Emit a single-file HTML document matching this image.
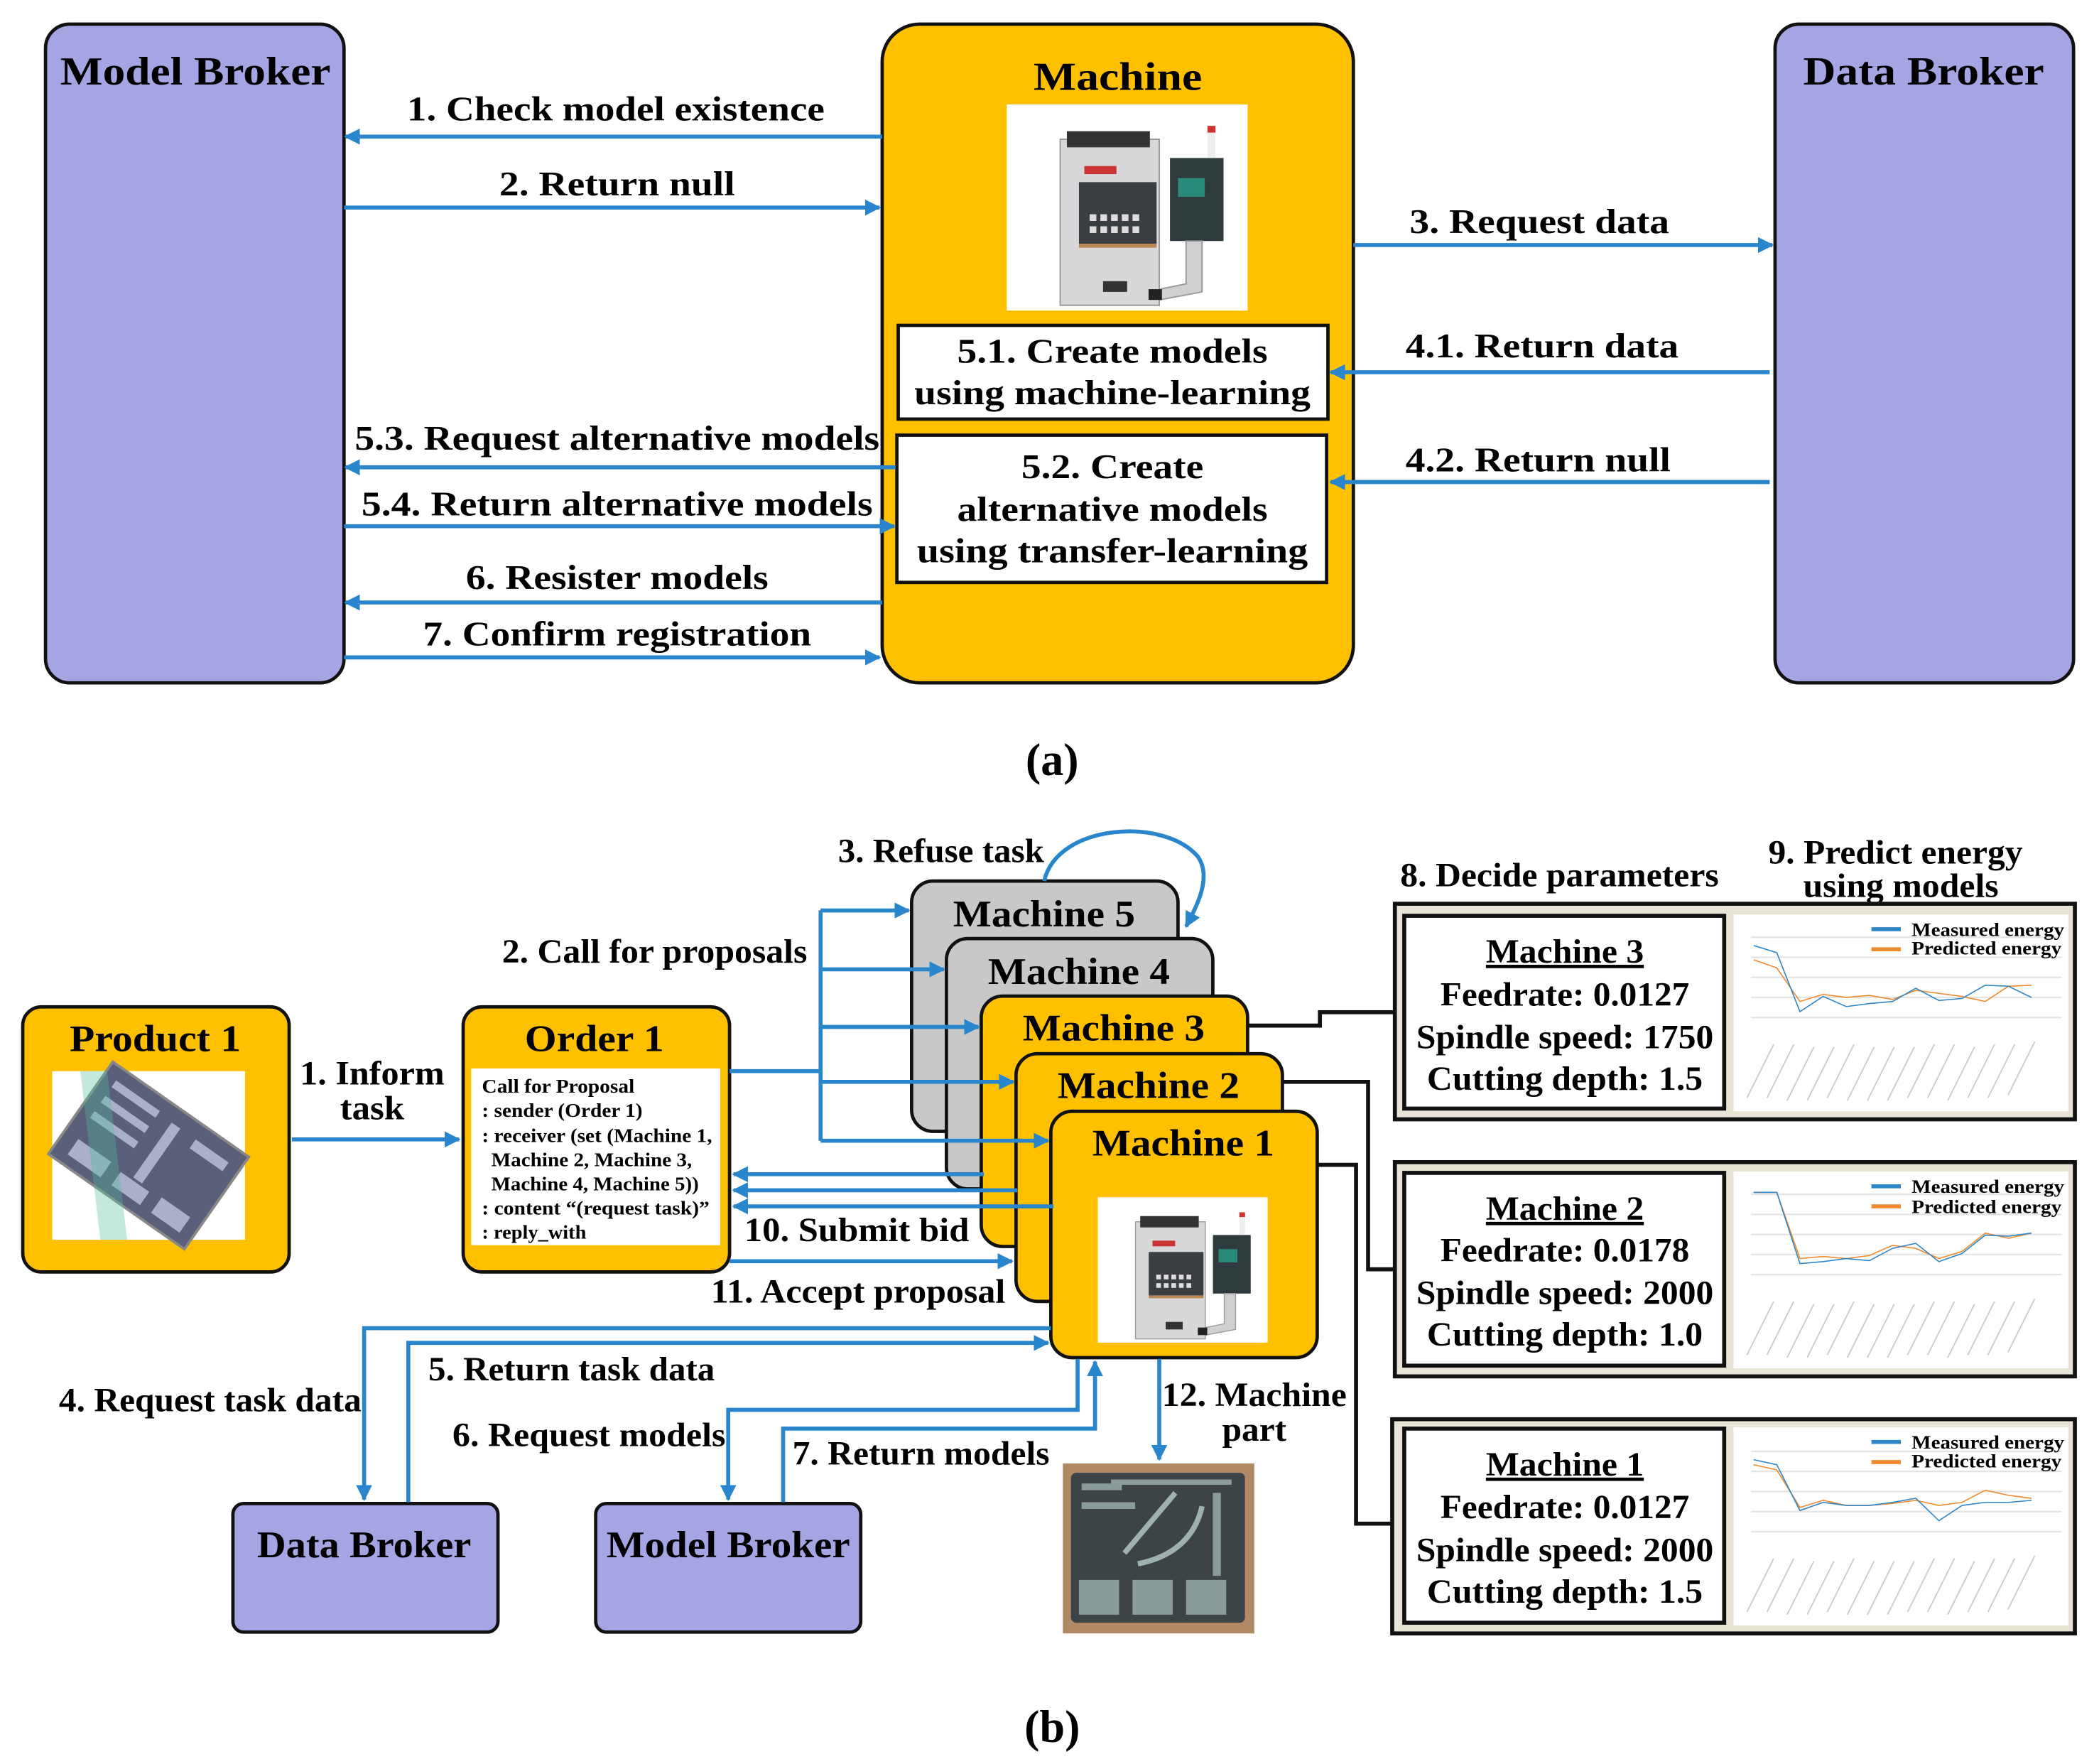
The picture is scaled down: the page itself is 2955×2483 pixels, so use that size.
<!DOCTYPE html>
<html><head><meta charset="utf-8"><style>
html,body{margin:0;padding:0;background:#fff;}
svg{display:block;}
text{font-family:"Liberation Serif",serif;font-weight:bold;fill:#000;}
</style></head><body>
<svg width="2955" height="2483" viewBox="0 0 1568 1317.5" xmlns="http://www.w3.org/2000/svg">
<defs>
<marker id="ah" viewBox="0 0 10 10" refX="9" refY="5" markerWidth="4" markerHeight="4" orient="auto" markerUnits="strokeWidth">
<path d="M0,0 L10,5 L0,10 z" fill="#2a86cc"/></marker>
<symbol id="mach" viewBox="0 0 180 154">
<rect x="0" y="0" width="180" height="154" fill="#fff"/>
<rect x="40" y="26" width="74" height="124" fill="#d8d8da" stroke="#999" stroke-width="1"/>
<rect x="45" y="20" width="62" height="12" fill="#333"/>
<rect x="58" y="46" width="24" height="6" fill="#c33"/>
<rect x="54" y="58" width="58" height="46" fill="#3a3d42"/>
<g fill="#ddd"><rect x="62" y="82" width="5" height="5"/><rect x="70" y="82" width="5" height="5"/><rect x="78" y="82" width="5" height="5"/><rect x="86" y="82" width="5" height="5"/><rect x="94" y="82" width="5" height="5"/><rect x="62" y="91" width="5" height="5"/><rect x="70" y="91" width="5" height="5"/><rect x="78" y="91" width="5" height="5"/><rect x="86" y="91" width="5" height="5"/><rect x="94" y="91" width="5" height="5"/></g>
<rect x="54" y="104" width="58" height="3" fill="#b85"/>
<rect x="72" y="132" width="18" height="8" fill="#333"/>
<rect x="122" y="40" width="40" height="62" fill="#2e3a3c"/>
<rect x="128" y="55" width="20" height="14" fill="#2a8a7a"/>
<rect x="150" y="16" width="6" height="24" fill="#eee"/>
<rect x="150" y="16" width="6" height="5" fill="#c33"/>
<path d="M134,102 L146,102 L146,140 L114,146 L114,138 L134,134 z" fill="#d0d0d2" stroke="#999" stroke-width="1"/>
<rect x="106" y="138" width="10" height="8" fill="#222"/>
</symbol>
</defs>

<!-- ============ PART A ============ -->
<rect x="34" y="18" width="223" height="492" rx="18" fill="#a5a5e3" stroke="#111" stroke-width="2.5"/>
<rect x="659" y="18" width="352" height="492" rx="28" fill="#ffc000" stroke="#111" stroke-width="2.5"/>
<rect x="1326" y="18" width="223" height="492" rx="18" fill="#a5a5e3" stroke="#111" stroke-width="2.5"/>
<text x="146" y="63" font-size="30" text-anchor="middle" textLength="202" lengthAdjust="spacingAndGlyphs">Model Broker</text>
<text x="835" y="67" font-size="30" text-anchor="middle" textLength="126" lengthAdjust="spacingAndGlyphs">Machine</text>
<text x="1437" y="63" font-size="30" text-anchor="middle" textLength="180" lengthAdjust="spacingAndGlyphs">Data Broker</text>
<use href="#mach" x="752" y="78" width="180" height="154"/>
<rect x="671" y="243" width="321" height="70" fill="#fff" stroke="#111" stroke-width="2.5"/>
<text x="831" y="271" font-size="26" text-anchor="middle" textLength="232" lengthAdjust="spacingAndGlyphs">5.1. Create models</text>
<text x="831" y="302" font-size="26" text-anchor="middle" textLength="296" lengthAdjust="spacingAndGlyphs">using machine-learning</text>
<rect x="670" y="325" width="321" height="110" fill="#fff" stroke="#111" stroke-width="2.5"/>
<text x="831" y="357" font-size="26" text-anchor="middle" textLength="136" lengthAdjust="spacingAndGlyphs">5.2. Create</text>
<text x="831" y="389" font-size="26" text-anchor="middle" textLength="232" lengthAdjust="spacingAndGlyphs">alternative models</text>
<text x="831" y="420" font-size="26" text-anchor="middle" textLength="292" lengthAdjust="spacingAndGlyphs">using transfer-learning</text>

<g stroke="#2a86cc" stroke-width="3" fill="none" marker-end="url(#ah)">
<line x1="659" y1="102" x2="258" y2="102"/>
<line x1="257" y1="155" x2="657" y2="155"/>
<line x1="1011" y1="183" x2="1324" y2="183"/>
<line x1="1322" y1="278" x2="994" y2="278"/>
<line x1="1322" y1="360" x2="994" y2="360"/>
<line x1="669" y1="349" x2="258" y2="349"/>
<line x1="257" y1="393" x2="668" y2="393"/>
<line x1="659" y1="450" x2="258" y2="450"/>
<line x1="257" y1="491" x2="657" y2="491"/>
</g>
<g font-size="26" text-anchor="middle">
<text x="460" y="90" textLength="312" lengthAdjust="spacingAndGlyphs">1. Check model existence</text>
<text x="461" y="146" textLength="176" lengthAdjust="spacingAndGlyphs">2. Return null</text>
<text x="1150" y="174" textLength="194" lengthAdjust="spacingAndGlyphs">3. Request data</text>
<text x="1152" y="267" textLength="204" lengthAdjust="spacingAndGlyphs">4.1. Return data</text>
<text x="1149" y="352" textLength="198" lengthAdjust="spacingAndGlyphs">4.2. Return null</text>
<text x="461" y="336" textLength="392" lengthAdjust="spacingAndGlyphs">5.3. Request alternative models</text>
<text x="461" y="385" textLength="382" lengthAdjust="spacingAndGlyphs">5.4. Return alternative models</text>
<text x="461" y="440" textLength="226" lengthAdjust="spacingAndGlyphs">6. Resister models</text>
<text x="461" y="482" textLength="290" lengthAdjust="spacingAndGlyphs">7. Confirm registration</text>
</g>
<text x="786" y="579" font-size="34" text-anchor="middle">(a)</text>

<!-- ============ PART B ============ -->
<!-- Product 1 -->
<rect x="17" y="752" width="199" height="198" rx="14" fill="#ffc000" stroke="#111" stroke-width="2.5"/>
<text x="116" y="785" font-size="28" text-anchor="middle" textLength="128" lengthAdjust="spacingAndGlyphs">Product 1</text>
<rect x="39" y="800" width="144" height="126" fill="#fff"/>
<g transform="translate(111,863) rotate(35)">
<rect x="-62" y="-42" width="124" height="84" fill="#5a5f7a" stroke="#888" stroke-width="2"/>
<g fill="#aab0c8"><rect x="-52" y="-32" width="40" height="6"/><rect x="-52" y="-18" width="40" height="6"/><rect x="-52" y="-4" width="40" height="6"/><rect x="0" y="-30" width="8" height="50"/><rect x="-50" y="20" width="30" height="14"/><rect x="-10" y="22" width="26" height="12"/><rect x="26" y="20" width="26" height="14"/><rect x="22" y="-30" width="30" height="8"/></g>
</g>
<polygon points="60,800 80,800 95,926 75,926" fill="#4fbf9a" opacity="0.35"/>

<!-- Order 1 -->
<rect x="346" y="752" width="199" height="198" rx="14" fill="#ffc000" stroke="#111" stroke-width="2.5"/>
<text x="444" y="785" font-size="28" text-anchor="middle" textLength="104" lengthAdjust="spacingAndGlyphs">Order 1</text>
<rect x="352" y="798" width="186" height="132" fill="#fff"/>
<g font-size="14.5">
<text x="360" y="816" textLength="114" lengthAdjust="spacingAndGlyphs">Call for Proposal</text>
<text x="360" y="834" textLength="120" lengthAdjust="spacingAndGlyphs">: sender (Order 1)</text>
<text x="360" y="853" textLength="172" lengthAdjust="spacingAndGlyphs">: receiver (set (Machine 1,</text>
<text x="367" y="871" textLength="150" lengthAdjust="spacingAndGlyphs">Machine 2, Machine 3,</text>
<text x="367" y="889" textLength="155" lengthAdjust="spacingAndGlyphs">Machine 4, Machine 5))</text>
<text x="360" y="907" textLength="170" lengthAdjust="spacingAndGlyphs">: content “(request task)”</text>
<text x="360" y="925" textLength="78" lengthAdjust="spacingAndGlyphs">: reply_with</text>
</g>

<!-- Machines -->
<rect x="681" y="658" width="199" height="187" rx="16" fill="#c8c8c8" stroke="#111" stroke-width="2.5"/>
<text x="780" y="692" font-size="28" text-anchor="middle" textLength="136" lengthAdjust="spacingAndGlyphs">Machine 5</text>
<rect x="707" y="701" width="199" height="187" rx="16" fill="#c8c8c8" stroke="#111" stroke-width="2.5"/>
<text x="806" y="735" font-size="28" text-anchor="middle" textLength="136" lengthAdjust="spacingAndGlyphs">Machine 4</text>
<rect x="733" y="744" width="199" height="187" rx="16" fill="#ffc000" stroke="#111" stroke-width="2.5"/>
<text x="832" y="777" font-size="28" text-anchor="middle" textLength="136" lengthAdjust="spacingAndGlyphs">Machine 3</text>
<rect x="759" y="787" width="199" height="185" rx="16" fill="#ffc000" stroke="#111" stroke-width="2.5"/>
<text x="858" y="820" font-size="28" text-anchor="middle" textLength="136" lengthAdjust="spacingAndGlyphs">Machine 2</text>
<rect x="785" y="830" width="199" height="184" rx="16" fill="#ffc000" stroke="#111" stroke-width="2.5"/>
<text x="884" y="863" font-size="28" text-anchor="middle" textLength="136" lengthAdjust="spacingAndGlyphs">Machine 1</text>
<use href="#mach" x="820" y="885" width="127" height="127" preserveAspectRatio="none"/>

<!-- Data/Model broker b -->
<rect x="174" y="1123" width="198" height="96" rx="8" fill="#a5a5e3" stroke="#111" stroke-width="2.5"/>
<text x="272" y="1163" font-size="28" text-anchor="middle" textLength="160" lengthAdjust="spacingAndGlyphs">Data Broker</text>
<rect x="445" y="1123" width="198" height="96" rx="8" fill="#a5a5e3" stroke="#111" stroke-width="2.5"/>
<text x="544" y="1163" font-size="28" text-anchor="middle" textLength="182" lengthAdjust="spacingAndGlyphs">Model Broker</text>

<!-- Part photo -->
<rect x="794" y="1093" width="143" height="127" fill="#b08a66"/>
<rect x="800" y="1100" width="130" height="112" rx="4" fill="#3d4448"/>
<g fill="#9fb0b0" opacity="0.8">
<rect x="808" y="1108" width="30" height="5"/><rect x="808" y="1122" width="40" height="5"/><rect x="830" y="1105" width="90" height="4"/>
<rect x="906" y="1115" width="6" height="62"/>
<rect x="806" y="1180" width="30" height="26"/><rect x="846" y="1180" width="30" height="26"/><rect x="886" y="1180" width="30" height="26"/>
</g>
<line x1="840" y1="1160" x2="878" y2="1115" stroke="#9fb0b0" stroke-width="4"/>
<path d="M850,1168 Q890,1160 898,1125" stroke="#9fb0b0" stroke-width="4" fill="none"/>

<!-- Blue arrows part b -->
<g stroke="#2a86cc" stroke-width="3" fill="none">
<line x1="218" y1="851" x2="343" y2="851" marker-end="url(#ah)"/>
<polyline points="545,800 613,800"/>
<line x1="613" y1="680" x2="613" y2="852"/>
<line x1="613" y1="680" x2="679" y2="680" marker-end="url(#ah)"/>
<line x1="613" y1="724" x2="705" y2="724" marker-end="url(#ah)"/>
<line x1="613" y1="767" x2="731" y2="767" marker-end="url(#ah)"/>
<line x1="613" y1="808" x2="757" y2="808" marker-end="url(#ah)"/>
<line x1="613" y1="852" x2="783" y2="852" marker-end="url(#ah)"/>
<path d="M780,658 C790,615 870,610 895,640 C905,655 895,675 886,692" marker-end="url(#ah)"/>
<line x1="735" y1="877" x2="548" y2="877" marker-end="url(#ah)"/>
<line x1="760" y1="889" x2="548" y2="889" marker-end="url(#ah)"/>
<line x1="787" y1="901" x2="548" y2="901" marker-end="url(#ah)"/>
<line x1="545" y1="942" x2="756" y2="942" marker-end="url(#ah)"/>
<polyline points="785,992 272,992 272,1120" marker-end="url(#ah)"/>
<polyline points="305,1122 305,1003 783,1003" marker-end="url(#ah)"/>
<polyline points="805,1015 805,1053 544,1053 544,1120" marker-end="url(#ah)"/>
<polyline points="585,1122 585,1067 818,1067 818,1017" marker-end="url(#ah)"/>
<line x1="866" y1="1015" x2="866" y2="1090" marker-end="url(#ah)"/>
</g>

<!-- black connectors -->
<g stroke="#111" stroke-width="3" fill="none">
<polyline points="932,766 986,766 986,756 1043,756"/>
<polyline points="958,808 1022,808 1022,948 1043,948"/>
<polyline points="984,870 1013,870 1013,1138 1041,1138"/>
</g>

<!-- Part b labels -->
<g font-size="25">
<text x="278" y="810" text-anchor="middle" textLength="108" lengthAdjust="spacingAndGlyphs">1. Inform</text>
<text x="278" y="836" text-anchor="middle" textLength="48" lengthAdjust="spacingAndGlyphs">task</text>
<text x="489" y="719" text-anchor="middle" textLength="228" lengthAdjust="spacingAndGlyphs">2. Call for proposals</text>
<text x="703" y="644" text-anchor="middle" textLength="154" lengthAdjust="spacingAndGlyphs">3. Refuse task</text>
<text x="640" y="927" text-anchor="middle" textLength="168" lengthAdjust="spacingAndGlyphs">10. Submit  bid</text>
<text x="641" y="973" text-anchor="middle" textLength="220" lengthAdjust="spacingAndGlyphs">11. Accept proposal</text>
<text x="157" y="1054" text-anchor="middle" textLength="226" lengthAdjust="spacingAndGlyphs">4. Request task data</text>
<text x="427" y="1031" text-anchor="middle" textLength="214" lengthAdjust="spacingAndGlyphs">5. Return task data</text>
<text x="440" y="1080" text-anchor="middle" textLength="204" lengthAdjust="spacingAndGlyphs">6. Request models</text>
<text x="688" y="1094" text-anchor="middle" textLength="192" lengthAdjust="spacingAndGlyphs">7. Return models</text>
<text x="937" y="1050" text-anchor="middle" textLength="138" lengthAdjust="spacingAndGlyphs">12. Machine</text>
<text x="937" y="1076" text-anchor="middle" textLength="48" lengthAdjust="spacingAndGlyphs">part</text>
<text x="1165" y="662" text-anchor="middle" textLength="238" lengthAdjust="spacingAndGlyphs">8. Decide parameters</text>
<text x="1416" y="645" text-anchor="middle" textLength="190" lengthAdjust="spacingAndGlyphs">9. Predict energy</text>
<text x="1420" y="670" text-anchor="middle" textLength="146" lengthAdjust="spacingAndGlyphs">using models</text>
</g>

<!-- Right panels -->
<g id="p1">
<rect x="1042" y="675" width="508" height="161" fill="#e9e5d6" stroke="#111" stroke-width="3"/>
<rect x="1049" y="684" width="239" height="144" fill="#fff" stroke="#111" stroke-width="3"/>
<rect x="1295" y="683" width="250" height="147" fill="#fff"/>
</g>
<g>
<rect x="1042" y="868" width="508" height="160" fill="#e9e5d6" stroke="#111" stroke-width="3"/>
<rect x="1049" y="876" width="239" height="144" fill="#fff" stroke="#111" stroke-width="3"/>
<rect x="1295" y="875" width="250" height="147" fill="#fff"/>
</g>
<g>
<rect x="1040" y="1060" width="510" height="160" fill="#e9e5d6" stroke="#111" stroke-width="3"/>
<rect x="1049" y="1067" width="239" height="145" fill="#fff" stroke="#111" stroke-width="3"/>
<rect x="1295" y="1066" width="250" height="148" fill="#fff"/>
</g>

<g font-size="25" text-anchor="middle">
<text x="1169" y="719" text-decoration="underline" textLength="118" lengthAdjust="spacingAndGlyphs">Machine 3</text>
<text x="1169" y="751" textLength="186" lengthAdjust="spacingAndGlyphs">Feedrate: 0.0127</text>
<text x="1169" y="783" textLength="222" lengthAdjust="spacingAndGlyphs">Spindle speed: 1750</text>
<text x="1169" y="814" textLength="206" lengthAdjust="spacingAndGlyphs">Cutting depth: 1.5</text>
<text x="1169" y="911" text-decoration="underline" textLength="118" lengthAdjust="spacingAndGlyphs">Machine 2</text>
<text x="1169" y="942" textLength="186" lengthAdjust="spacingAndGlyphs">Feedrate: 0.0178</text>
<text x="1169" y="974" textLength="222" lengthAdjust="spacingAndGlyphs">Spindle speed: 2000</text>
<text x="1169" y="1005" textLength="206" lengthAdjust="spacingAndGlyphs">Cutting depth: 1.0</text>
<text x="1169" y="1102" text-decoration="underline" textLength="118" lengthAdjust="spacingAndGlyphs">Machine 1</text>
<text x="1169" y="1134" textLength="186" lengthAdjust="spacingAndGlyphs">Feedrate: 0.0127</text>
<text x="1169" y="1166" textLength="222" lengthAdjust="spacingAndGlyphs">Spindle speed: 2000</text>
<text x="1169" y="1197" textLength="206" lengthAdjust="spacingAndGlyphs">Cutting depth: 1.5</text>
</g>

<!-- charts -->
<g stroke="#e4e4e4" stroke-width="1.2">
<line x1="1308" y1="700" x2="1540" y2="700"/><line x1="1308" y1="715" x2="1540" y2="715"/><line x1="1308" y1="730" x2="1540" y2="730"/><line x1="1308" y1="745" x2="1540" y2="745"/><line x1="1308" y1="760" x2="1540" y2="760"/>
<line x1="1308" y1="892" x2="1540" y2="892"/><line x1="1308" y1="907" x2="1540" y2="907"/><line x1="1308" y1="922" x2="1540" y2="922"/><line x1="1308" y1="937" x2="1540" y2="937"/><line x1="1308" y1="952" x2="1540" y2="952"/>
<line x1="1308" y1="1084" x2="1540" y2="1084"/><line x1="1308" y1="1099" x2="1540" y2="1099"/><line x1="1308" y1="1114" x2="1540" y2="1114"/><line x1="1308" y1="1129" x2="1540" y2="1129"/><line x1="1308" y1="1144" x2="1540" y2="1144"/>
</g>
<g stroke="#ccc" stroke-width="1">
<path d="M1305,820 l20,-40 M1320,820 l20,-40 M1335,822 l20,-40 M1350,822 l20,-40 M1365,820 l20,-40 M1380,822 l20,-40 M1395,822 l20,-40 M1410,822 l20,-40 M1425,820 l20,-40 M1440,820 l20,-40 M1455,822 l20,-40 M1470,820 l20,-40 M1485,820 l20,-40 M1500,818 l20,-40"/>
<path d="M1305,1012 l20,-40 M1320,1012 l20,-40 M1335,1014 l20,-40 M1350,1014 l20,-40 M1365,1012 l20,-40 M1380,1014 l20,-40 M1395,1014 l20,-40 M1410,1014 l20,-40 M1425,1012 l20,-40 M1440,1012 l20,-40 M1455,1014 l20,-40 M1470,1012 l20,-40 M1485,1012 l20,-40 M1500,1010 l20,-40"/>
<path d="M1305,1204 l20,-40 M1320,1204 l20,-40 M1335,1206 l20,-40 M1350,1206 l20,-40 M1365,1204 l20,-40 M1380,1206 l20,-40 M1395,1206 l20,-40 M1410,1206 l20,-40 M1425,1204 l20,-40 M1440,1204 l20,-40 M1455,1206 l20,-40 M1470,1204 l20,-40 M1485,1204 l20,-40 M1500,1202 l20,-40"/>
</g>
<g fill="none" stroke-width="1.6">
<g transform="translate(1310,767) scale(17.3,-76)">
<polyline vector-effect="non-scaling-stroke" stroke="#f08a2e" points="0,.66 1,.58 2,.25 3,.32 4,.29 5,.31 6,.27 7,.36 8,.33 9,.3 10,.25 11,.4 12,.41"/>
<polyline vector-effect="non-scaling-stroke" stroke="#2e86c9" points="0,.8 1,.73 2,.15 3,.3 4,.2 5,.23 6,.25 7,.38 8,.26 9,.28 10,.41 11,.4 12,.29"/>
</g>
<g transform="translate(1310,959) scale(17.3,-76)">
<polyline vector-effect="non-scaling-stroke" stroke="#f08a2e" points="0,.9 1,.9 2,.25 3,.27 4,.25 5,.28 6,.38 7,.35 8,.25 9,.32 10,.5 11,.45 12,.5"/>
<polyline vector-effect="non-scaling-stroke" stroke="#2e86c9" points="0,.9 1,.9 2,.2 3,.22 4,.25 5,.23 6,.35 7,.4 8,.22 9,.3 10,.48 11,.47 12,.5"/>
</g>
<g transform="translate(1310,1151) scale(17.3,-76)">
<polyline vector-effect="non-scaling-stroke" stroke="#f08a2e" points="0,.75 1,.7 2,.33 3,.4 4,.35 5,.35 6,.37 7,.4 8,.35 9,.38 10,.5 11,.45 12,.42"/>
<polyline vector-effect="non-scaling-stroke" stroke="#2e86c9" points="0,.8 1,.75 2,.3 3,.38 4,.35 5,.35 6,.38 7,.42 8,.2 9,.35 10,.38 11,.38 12,.4"/>
</g>
</g>
<g stroke-width="3">
<line x1="1398" y1="694" x2="1420" y2="694" stroke="#2e86c9"/><line x1="1398" y1="709" x2="1420" y2="709" stroke="#f08a2e"/>
<line x1="1398" y1="886" x2="1420" y2="886" stroke="#2e86c9"/><line x1="1398" y1="901" x2="1420" y2="901" stroke="#f08a2e"/>
<line x1="1398" y1="1077" x2="1420" y2="1077" stroke="#2e86c9"/><line x1="1398" y1="1092" x2="1420" y2="1092" stroke="#f08a2e"/>
</g>
<g font-size="14">
<text x="1428" y="699" textLength="114" lengthAdjust="spacingAndGlyphs">Measured energy</text>
<text x="1428" y="713" textLength="112" lengthAdjust="spacingAndGlyphs">Predicted energy</text>
<text x="1428" y="891" textLength="114" lengthAdjust="spacingAndGlyphs">Measured energy</text>
<text x="1428" y="906" textLength="112" lengthAdjust="spacingAndGlyphs">Predicted energy</text>
<text x="1428" y="1082" textLength="114" lengthAdjust="spacingAndGlyphs">Measured energy</text>
<text x="1428" y="1096" textLength="112" lengthAdjust="spacingAndGlyphs">Predicted energy</text>
</g>

<text x="786" y="1301" font-size="34" text-anchor="middle">(b)</text>
</svg>
</body></html>
